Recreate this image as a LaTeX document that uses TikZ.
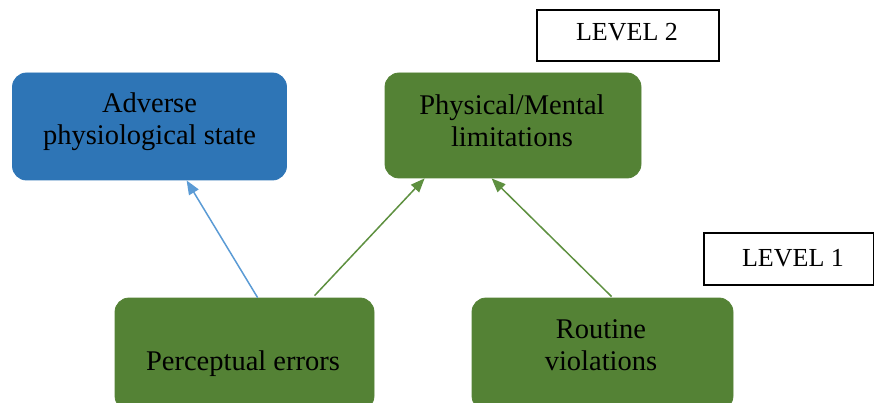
\documentclass[tikz,border=0pt]{standalone}
\usepackage{fontspec}
\setmainfont{Liberation Serif}
\usetikzlibrary{arrows.meta}
\definecolor{boxblue}{HTML}{2E75B6}
\definecolor{boxgreen}{HTML}{548235}
\definecolor{arrblue}{HTML}{5B9BD5}
\definecolor{arrgreen}{HTML}{5E9040}
\begin{document}
\begin{tikzpicture}[x=1pt,y=-1pt,
  rbox/.style={rounded corners=14pt, draw=#1, fill=#1, line width=0.8pt, inner sep=0pt},
  lvlbox/.style={draw=black, line width=1.2pt, fill=white, inner sep=0pt},
  lvltxt/.style={anchor=base, inner sep=0pt, font=\fontsize{26}{30}\selectfont},
  txt/.style={anchor=base, inner sep=0pt, font=\fontsize{28.5}{32}\selectfont},
  arr/.style={line width=1.5pt, -{Triangle[length=14pt,width=11pt]}}]
\useasboundingbox (0,0) rectangle (874,403);
\clip (0,0) rectangle (874,403);
% boxes
\node[rbox=boxblue, minimum width=274pt, minimum height=107pt] (adverse) at (149.5,126.5) {};
\node[rbox=boxgreen, minimum width=256pt, minimum height=105pt] (phys) at (513,125.5) {};
\node[rbox=boxgreen, minimum width=259pt, minimum height=112pt] (perc) at (244.5,354) {};
\node[rbox=boxgreen, minimum width=261pt, minimum height=112pt] (routine) at (602.5,354) {};
\node[lvlbox, minimum width=182pt, minimum height=51pt] (lvl2) at (628,35.5) {};
\node[lvlbox, minimum width=170pt, minimum height=52pt] (lvl1) at (789,259) {};
% texts
\node[txt] (adverseA) at (149.5,113) {Adverse};
\node[txt] (adverseB) at (149.5,145) {physiological state};
\node[txt] (physA) at (512,115) {Physical/Mental};
\node[txt] (physB) at (512,147) {limitations};
\node[txt] (percA) at (243,370) {Perceptual errors};
\node[txt] (routA) at (601,338) {Routine};
\node[txt] (routB) at (601,370) {violations};
\node[lvltxt] (lvl2t) at (627,41) {LEVEL 2};
\node[lvltxt] (lvl1t) at (793,266) {LEVEL 1};
% arrows
\draw[arr, draw=arrblue, fill=arrblue] ([xshift=143pt]perc.north west) -- ([xshift=174.5pt]adverse.south west);
\draw[arr, draw=arrgreen, fill=arrgreen] ([xshift=200pt,yshift=2pt]perc.north west) -- ([xshift=40pt]phys.south west);
\draw[arr, draw=arrgreen, fill=arrgreen] ([xshift=140pt,yshift=1pt]routine.north west) -- ([xshift=107pt]phys.south west);
\end{tikzpicture}
\end{document}
